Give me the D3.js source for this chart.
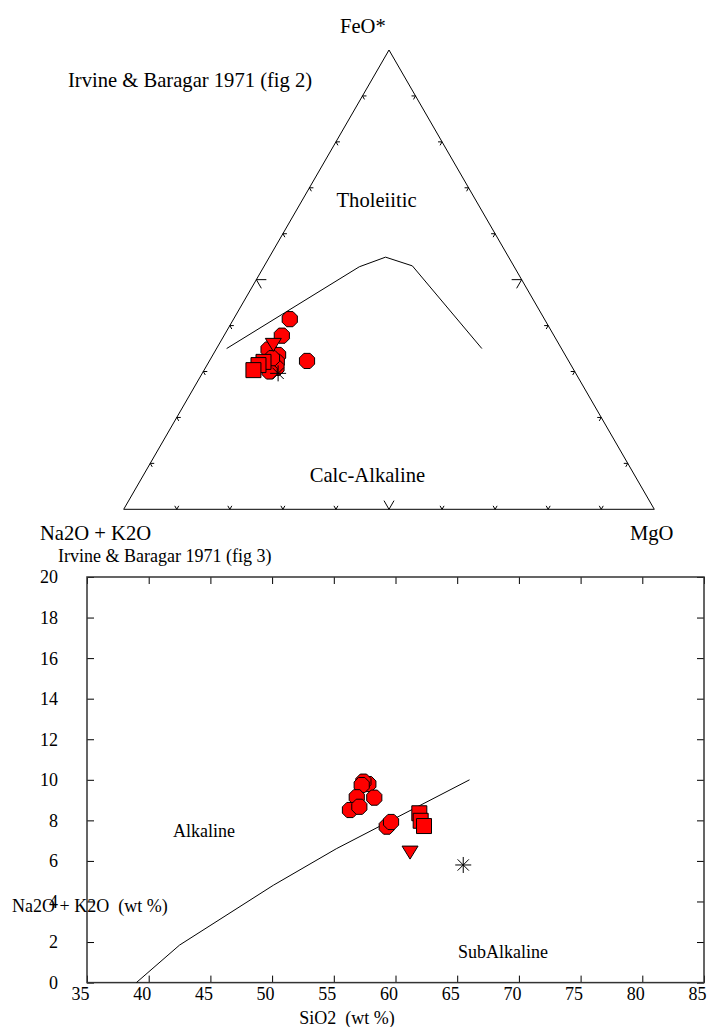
<!DOCTYPE html>
<html><head><meta charset="utf-8">
<script src="https://cdn.jsdelivr.net/npm/d3@7"></script>
<style>
body{margin:0;background:#fff}
svg{display:block}
text{font-family:"Liberation Serif","Times New Roman",serif;fill:#000}
</style>
</head><body>
<svg id="chart" width="707" height="1027"></svg>
<script>
// ---------- DATA ----------
// AFM ternary: [Na2O+K2O, FeO*, MgO] in %
const ternaryTicks = [10, 20, 30, 40, 50, 60, 70, 80, 90];
const afmBoundary = [[63.1, 35.0, 1.9], [29.2, 52.8, 18.0], [23.2, 54.9, 21.9], [19.1, 53.0, 27.9], [15.0, 35.0, 50.0]];
const afmOctagons = [[48.0, 41.4, 10.6], [51.3, 37.8, 10.9], [55.3, 34.8, 9.9], [54.1, 33.6, 12.3], [55.1, 32.1, 12.8],
                     [55.8, 30.8, 13.4], [57.5, 30.0, 12.5], [49.3, 32.3, 18.4], [55.6, 32.9, 11.5]];
const afmSquares = [[57.6, 32.1, 10.3], [58.9, 31.4, 9.7], [60.4, 30.3, 9.3]];
const afmTriangles = [[53.9, 35.8, 10.3]];
const afmAsterisks = [[56.1, 29.6, 14.3]];

// TAS: [SiO2, Na2O+K2O] in wt %
const tasBoundary = [[39.0, 0], [42.5, 1.85], [50.1, 4.8], [55.2, 6.6], [66.0, 10.0]];
const tasOctagons = [[57.8, 9.79], [57.4, 9.91], [57.26, 9.74], [56.86, 9.14], [58.28, 9.12],
                     [56.31, 8.51], [57.07, 8.67], [59.29, 7.69], [59.64, 7.92]];
const tasSquares = [[61.93, 8.35], [62.04, 7.98], [62.31, 7.72]];
const tasTriangles = [[61.18, 6.41]];
const tasAsterisks = [[65.49, 5.80]];
const xTicks = [35, 40, 45, 50, 55, 60, 65, 70, 75, 80, 85];
const yTicks = [0, 2, 4, 6, 8, 10, 12, 14, 16, 18, 20];

// ---------- DRAW ----------
const svg = d3.select("#chart");
const RED = "#ff0000";

function octagonPath(r) {
  const pts = d3.range(8).map(i => {
    const a = Math.PI / 8 + i * Math.PI / 4;
    return [r * Math.cos(a), r * Math.sin(a)];
  });
  return d3.line()(pts) + "Z";
}
function squarePath(s) {
  const h = s / 2;
  return `M${-h},${-h}H${h}V${h}H${-h}Z`;
}
function invTrianglePath(w, h) {
  return `M${-w/2},${-h/2}H${w/2}L0,${h/2}Z`;
}
function asteriskPath(r) {
  const d = r * Math.SQRT1_2;
  return `M${-r},0H${r}M0,${-r}V${r}M${-d},${-d}L${d},${d}M${-d},${d}L${d},${-d}`;
}

function drawMarkers(g, data, pos) {
  g.selectAll("path.oct").data(data.oct).join("path").attr("class", "oct")
    .attr("d", octagonPath(8.2)).attr("transform", d => `translate(${pos(d)})`)
    .attr("fill", RED).attr("stroke", "#000").attr("stroke-width", 1);
  g.selectAll("path.sq").data(data.sq).join("path").attr("class", "sq")
    .attr("d", squarePath(15)).attr("transform", d => `translate(${pos(d)})`)
    .attr("fill", RED).attr("stroke", "#000").attr("stroke-width", 1);
  g.selectAll("path.tri").data(data.tri).join("path").attr("class", "tri")
    .attr("d", invTrianglePath(16, 13)).attr("transform", d => `translate(${pos(d)})`)
    .attr("fill", RED).attr("stroke", "#000").attr("stroke-width", 1);
  g.selectAll("path.ast").data(data.ast).join("path").attr("class", "ast")
    .attr("d", asteriskPath(8)).attr("transform", d => `translate(${pos(d)})`)
    .attr("fill", "none").attr("stroke", "#000").attr("stroke-width", 1);
}

// ----- Ternary (AFM) -----
const tern = svg.append("g");
const tx = d3.scaleLinear().domain([0, 100]).range([123.7, 654.3]);
const ty = d3.scaleLinear().domain([0, 100]).range([509.3, 50]);
function proj(d) {
  const s = d[0] + d[1] + d[2];
  const f = d[1] * 100 / s, m = d[2] * 100 / s;
  return [tx(m + f / 2), ty(f)];
}
const corners = [[100, 0, 0], [0, 100, 0], [0, 0, 100]];
tern.append("path").attr("d", d3.line()(corners.map(proj)) + "Z")
  .attr("fill", "none").attr("stroke", "#000").attr("stroke-width", 1);

// ticks
const c60 = 0.5, s60 = Math.sqrt(3) / 2;
const tickSegs = [];
ternaryTicks.forEach(t => {
  const L = t === 50 ? 10 : 4;
  let p = proj([100 - t, 0, t]);            // bottom edge
  tickSegs.push([p, [p[0] - c60 * L, p[1] - s60 * L]], [p, [p[0] + c60 * L, p[1] - s60 * L]]);
  p = proj([100 - t, t, 0]);                // left edge
  tickSegs.push([p, [p[0] + L, p[1]]], [p, [p[0] + c60 * L, p[1] + s60 * L]]);
  p = proj([0, t, 100 - t]);                // right edge
  tickSegs.push([p, [p[0] - L, p[1]]], [p, [p[0] - c60 * L, p[1] + s60 * L]]);
});
tern.selectAll("line.tk").data(tickSegs).join("line").attr("class", "tk")
  .attr("x1", d => d[0][0]).attr("y1", d => d[0][1])
  .attr("x2", d => d[1][0]).attr("y2", d => d[1][1])
  .attr("stroke", "#000").attr("stroke-width", 1);

tern.append("path").attr("d", d3.line()(afmBoundary.map(proj)))
  .attr("fill", "none").attr("stroke", "#000").attr("stroke-width", 1);

drawMarkers(tern.append("g"), {oct: afmOctagons, sq: afmSquares, tri: afmTriangles, ast: afmAsterisks}, proj);

const T1 = 20.6;
tern.append("text").attr("x", 340).attr("y", 33).attr("font-size", T1).text("FeO*");
tern.append("text").attr("x", 68).attr("y", 87).attr("font-size", T1).text("Irvine & Baragar 1971 (fig 2)");
tern.append("text").attr("x", 336.5).attr("y", 207).attr("font-size", T1).text("Tholeiitic");
tern.append("text").attr("x", 309.7).attr("y", 482).attr("font-size", T1).text("Calc-Alkaline");
tern.append("text").attr("x", 40).attr("y", 540).attr("font-size", T1).text("Na2O + K2O");
tern.append("text").attr("x", 630).attr("y", 540).attr("font-size", T1).text("MgO");

// ----- TAS -----
const tas = svg.append("g");
const x = d3.scaleLinear().domain([35, 85]).range([87, 704]);
const y = d3.scaleLinear().domain([0, 20]).range([982.6, 577]);
const FS = 18;

function styleAxis(g) {
  g.attr("font-family", null).attr("font-size", null);
  g.select(".domain").remove();
  g.selectAll(".tick line").attr("stroke", "#000").attr("stroke-width", 1);
  g.selectAll(".tick text").attr("font-size", FS).attr("fill", "#000");
}
tas.append("g").attr("transform", `translate(0,${y(0)})`)
  .call(d3.axisBottom(x).tickValues(xTicks).tickSizeInner(-7).tickSizeOuter(0).tickPadding(4.5).tickFormat(d3.format("d")))
  .call(styleAxis)
  .selectAll(".tick text").attr("text-anchor", "end").attr("x", 2);
tas.append("g").attr("transform", `translate(0,${y(20)})`)
  .call(d3.axisTop(x).tickValues(xTicks).tickSizeInner(-7).tickSizeOuter(0).tickFormat(""))
  .call(styleAxis);
tas.append("g").attr("transform", `translate(${x(35)},0)`)
  .call(d3.axisLeft(y).tickValues(yTicks).tickSizeInner(-7).tickSizeOuter(0).tickPadding(29).tickFormat(d3.format("d")))
  .call(styleAxis)
  .selectAll(".tick text").attr("dy", "0.33em");
tas.append("g").attr("transform", `translate(${x(85)},0)`)
  .call(d3.axisRight(y).tickValues(yTicks).tickSizeInner(-7).tickSizeOuter(0).tickFormat(""))
  .call(styleAxis);

tas.append("rect").attr("x", x(35)).attr("y", y(20))
  .attr("width", x(85) - x(35)).attr("height", y(0) - y(20))
  .attr("fill", "none").attr("stroke", "#333").attr("stroke-width", 1.5);

tas.append("path").attr("d", d3.line().x(d => x(d[0])).y(d => y(d[1]))(tasBoundary))
  .attr("fill", "none").attr("stroke", "#000").attr("stroke-width", 1);

drawMarkers(tas.append("g"), {oct: tasOctagons, sq: tasSquares, tri: tasTriangles, ast: tasAsterisks},
  d => [x(d[0]), y(d[1])]);

tas.append("text").attr("x", 58).attr("y", 562).attr("font-size", FS).text("Irvine & Baragar 1971 (fig 3)");
tas.append("text").attr("x", 173).attr("y", 837).attr("font-size", FS).text("Alkaline");
tas.append("text").attr("x", 458).attr("y", 958).attr("font-size", FS).text("SubAlkaline");
tas.append("text").attr("x", 12).attr("y", 912).attr("font-size", FS).style("white-space", "pre").text("Na2O + K2O  (wt %)");
tas.append("text").attr("x", 347).attr("y", 1024).attr("font-size", FS).attr("text-anchor", "middle").style("white-space", "pre").text("SiO2  (wt %)");
</script>
</body></html>
